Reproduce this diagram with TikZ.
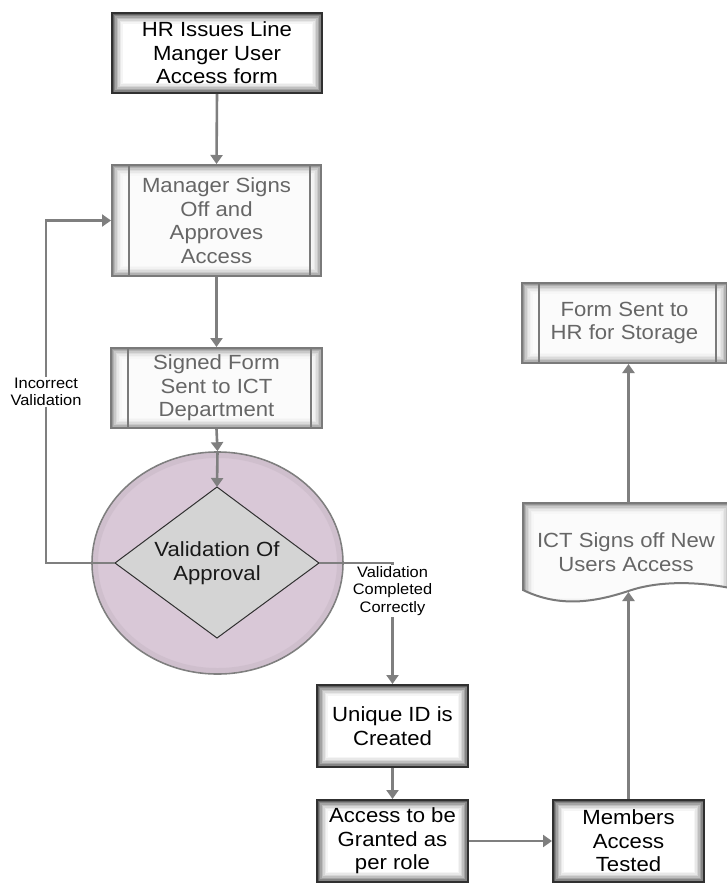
\documentclass[tikz,border=0pt]{standalone}
\usepackage{fontspec}
\setmainfont{Liberation Sans}[FakeStretch=1.08]
\usetikzlibrary{arrows.meta,shapes.geometric}
\definecolor{linegray}{HTML}{7F7F7F}
\definecolor{darkb}{HTML}{303030}
\definecolor{subb}{HTML}{7A7A7A}
\definecolor{subt}{HTML}{666666}
\definecolor{lav}{HTML}{D9C8D7}
\definecolor{diafill}{HTML}{D4D4D4}
\newcommand\myMainFS{\fontsize{20.5}{23.5}\selectfont}
\newcommand\myLblFS{\fontsize{15.2}{17.5}\selectfont}
\tikzset{
  glowdark/.style={path picture={
    \foreach \i/\c in {0/62,1.5/48,3/36,4.5/25,6/16,7.5/9,9/4,10.5/0}{
      \fill[black!\c!white] ([shift={(\i pt,-\i pt)}]path picture bounding box.north west) rectangle ([shift={(-\i pt,\i pt)}]path picture bounding box.south east);}}},
  glowlight/.style={path picture={
    \foreach \i/\c in {0/40,1.5/30,3/21,4.5/14,6/9,7.5/5,9/3,10.5/1.5}{
      \fill[black!\c!white] ([shift={(\i pt,-\i pt)}]path picture bounding box.north west) rectangle ([shift={(-\i pt,\i pt)}]path picture bounding box.south east);}}},
  procbox/.style={rectangle, draw=darkb, line width=2pt, glowdark, inner sep=0pt,
    align=center, text=black, font=\myMainFS},
  subbox/.style={rectangle, draw=subb, line width=2pt, glowlight, inner sep=0pt,
    align=center, text=subt, font=\myMainFS},
  arr/.style={draw=linegray, line width=2.6pt, -{Triangle[width=12pt,length=9pt]}},
  lbl/.style={fill=white, align=center, font=\myLblFS, inner sep=1pt, text=black},
  innerline/.style={draw=subb, line width=1.6pt}
}
\begin{document}
\begin{tikzpicture}[x=1pt,y=-1pt]
\useasboundingbox (0,0) rectangle (726,884);
\fill[white] (0,0) rectangle (726,884);

% process boxes
\node[procbox, minimum width=210pt, minimum height=80pt] (hr) at (217,53) {HR Issues Line\\Manger User\\Access form};
\node[subbox, minimum width=209pt, minimum height=111pt] (man) at (216.5,220.5) {Manager Signs\\Off and\\Approves\\Access};
\node[subbox, minimum width=211pt, minimum height=80pt] (sig) at (216.5,388) {Signed Form\\Sent to ICT\\Department};
\node[subbox, minimum width=205pt, minimum height=80pt] (form) at (624.5,323) {Form Sent to\\HR for Storage};

\foreach \n in {man,sig,form}{
  \draw[innerline] ([xshift=18pt]\n.north west) -- ([xshift=18pt]\n.south west);
  \draw[innerline] ([xshift=-12pt]\n.north east) -- ([xshift=-12pt]\n.south east);
}

\node[procbox, minimum width=151pt, minimum height=82pt] (uniq) at (392.5,726) {Unique ID is\\Created};
\node[procbox, minimum width=151pt, minimum height=82pt] (acc) at (392.5,841) {Access to be\\Granted as\\per role};
\node[procbox, minimum width=151pt, minimum height=82pt] (mem) at (628.5,841) {Members\\Access\\Tested};

% document shape
\draw[draw=subb, line width=2pt, glowlight] (523,503) -- (730,503) -- (730,588)
  .. controls (700,582) and (660,580) .. (628.5,591)
  .. controls (595,602) and (560,608) .. (523,590) -- cycle;
\node[align=center, text=subt, font=\myMainFS] (ict) at (626,552) {ICT Signs off New\\Users Access};
\coordinate (ictb) at (628.5,592);
\coordinate (ictt) at (628.5,503);

% ellipse and diamond
\node[ellipse, draw=linegray, line width=1.6pt, fill=lav, minimum width=251pt, minimum height=222pt, inner sep=0pt] (ell) at (217.5,563) {};
\node[ellipse, draw=lav!88!black, opacity=0.35, line width=5pt, minimum width=244pt, minimum height=215pt, inner sep=0pt] (ellin) at (217.5,563) {};
\coordinate (dt) at (217,487);
\coordinate (dr) at (319,563);
\coordinate (db) at (217,638);
\coordinate (dl) at (115,563);
\draw[draw=darkb, line width=1pt, fill=diafill] (dt) -- (dr) -- (db) -- (dl) -- cycle;
\node[align=center, text=black!90, font=\myMainFS] (dtext) at (217,563) {Validation Of\\Approval};

% connectors
\draw[arr] (hr.south) -- (man.north);
\draw[arr] (man.south) -- (sig.north);
\draw[arr] (sig.south) -- (ell.north);
\draw[arr] (ell.north) -- (dt);
\coordinate (loopx) at (46,400);
\draw[arr] (dl) -| (loopx) |- (man.west);
\node[lbl] (lblinc) at (46,392) {Incorrect\\Validation};
\draw[arr] (dr) -| (uniq.north);
\node[lbl] (lblok) at (392.5,591) {Validation\\Completed\\Correctly};
\draw[arr] (uniq.south) -- (acc.north);
\draw[arr] (acc.east) -- (mem.west);
\draw[arr] (mem.north) -- (ictb);
\draw[arr] (ictt) -- (ictt |- form.south);
\end{tikzpicture}
\end{document}
